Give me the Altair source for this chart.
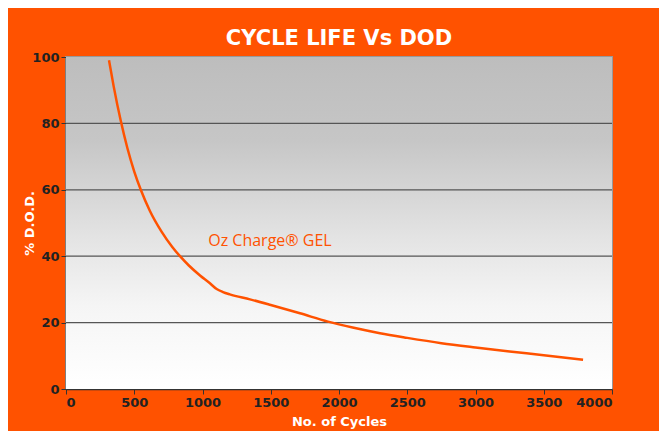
import altair as alt
import pandas as pd

cycles = [315, 350, 400, 450, 500, 550, 614, 700, 780, 835, 900, 982, 1050, 1104, 1150, 1200, 1348, 1500,
          1714, 1919, 2100, 2300, 2500, 2750, 3000, 3250, 3500, 3788]
dod = [99, 91, 81, 72.5, 65.5, 59.8, 53.7, 47.4, 42.7, 40, 37.2, 34.2, 32.0, 30.1, 29.2, 28.5, 27.0, 25.3,
       22.8, 20.3, 18.5, 16.8, 15.4, 13.8, 12.5, 11.3, 10.2, 8.8]
grid_values = [20, 40, 60, 80]
label_text = ["Oz Charge® GEL"]
label_x = [1494]
label_y = [44.6]

ORANGE = "#FF5200"
W, H = 546, 332

df = pd.DataFrame({"cycles": cycles, "dod": dod})
gdf = pd.DataFrame({"g": grid_values})
lab = pd.DataFrame({"x": label_x, "y": label_y, "t": label_text})

xscale = alt.Scale(domain=[0, 4000], nice=False)
yscale = alt.Scale(domain=[0, 100], nice=False)

grad = alt.Gradient(
    gradient="linear", x1=0, x2=0, y1=0, y2=1,
    stops=[
        alt.GradientStop(color="#bdbdbd", offset=0),
        alt.GradientStop(color="#c6c6c6", offset=0.25),
        alt.GradientStop(color="#e4e4e4", offset=0.55),
        alt.GradientStop(color="#f5f5f5", offset=0.75),
        alt.GradientStop(color="#ffffff", offset=1),
    ],
)

bg = alt.Chart(df).mark_rect(color=grad).encode(
    x=alt.value(0), x2=alt.value(W), y=alt.value(0), y2=alt.value(H)
)

grid = alt.Chart(gdf).mark_rule(color="#555555", strokeWidth=1.2).encode(
    y=alt.Y("g:Q", scale=yscale)
)

line = alt.Chart(df).mark_line(color=ORANGE, strokeWidth=2.5, interpolate="monotone").encode(
    x=alt.X("cycles:Q", scale=xscale,
            axis=alt.Axis(title="No. of Cycles", values=list(range(0, 4001, 500)), grid=False,
                          format="d", titlePadding=6)),
    y=alt.Y("dod:Q", scale=yscale,
            axis=alt.Axis(title="% D.O.D.", values=[0, 20, 40, 60, 80, 100], grid=False,
                          format="d", titlePadding=-5)),
)

text = alt.Chart(lab).mark_text(color=ORANGE, fontSize=16, font="Open Sans", align="center", baseline="middle").encode(
    x=alt.X("x:Q", scale=xscale), y=alt.Y("y:Q", scale=yscale), text="t:N"
)

chart = alt.layer(bg, grid, line, text).properties(
    width=W, height=H,
    background=ORANGE,
    autosize=alt.AutoSizeParams(type="none"),
    padding={"left": 58, "top": 49, "right": 47, "bottom": 42},
    title=alt.TitleParams("CYCLE LIFE Vs DOD", color="white", fontSize=21, font="DejaVu Sans",
                          fontWeight="bold", offset=2, anchor="middle"),
).configure_axis(
    labelFont="DejaVu Sans", labelFontWeight="bold", labelFontSize=13, labelColor="#222222",
    titleFont="DejaVu Sans", titleFontWeight="bold", titleFontSize=13, titleColor="white",
    domainColor="#333333", domainWidth=1.5, tickColor="#333333", tickSize=5,
).configure_view(stroke="#999999", strokeWidth=2)

chart.save("out.html", embed_options={"renderer": "svg", "actions": False})
